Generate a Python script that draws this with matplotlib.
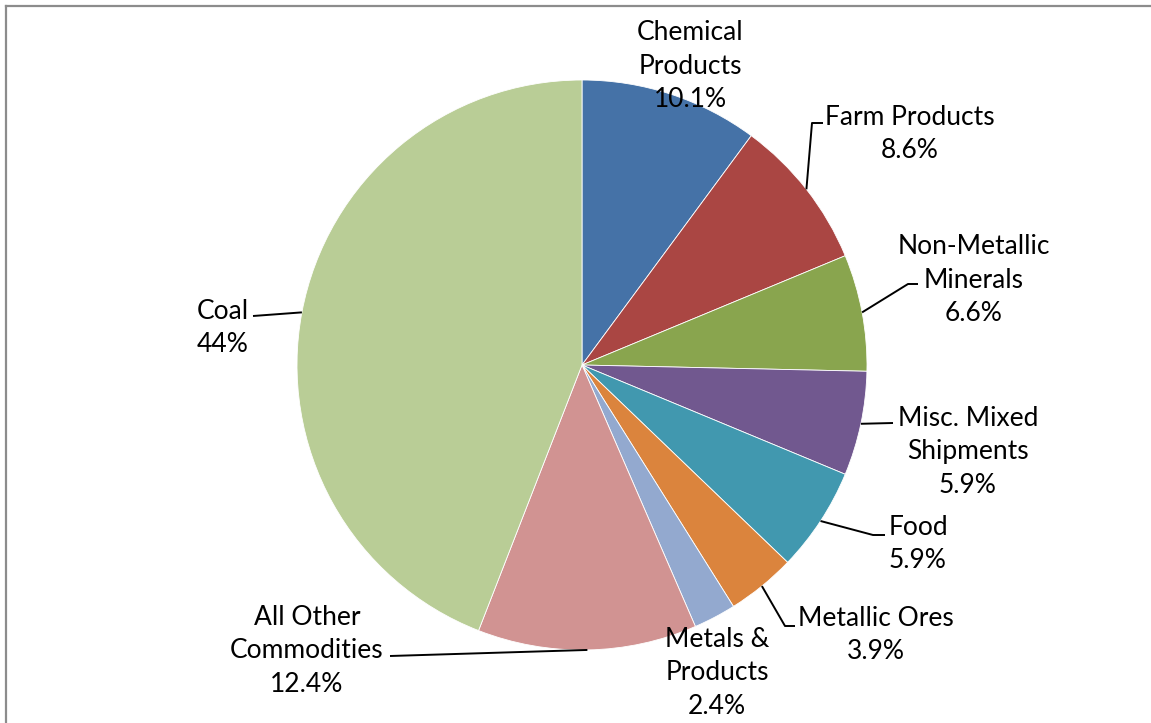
import numpy as np
import matplotlib
matplotlib.use("Agg")
import matplotlib.pyplot as plt
from matplotlib.lines import Line2D

# data
categories = ["Chemical\nProducts", "Farm Products", "Non-Metallic\nMinerals",
              "Misc. Mixed\nShipments", "Food", "Metallic Ores",
              "Metals &\nProducts", "All Other\nCommodities", "Coal"]
shares = [10.1, 8.6, 6.6, 5.9, 5.9, 3.9, 2.4, 12.4, 44]
pct_labels = ["10.1%", "8.6%", "6.6%", "5.9%", "5.9%", "3.9%", "2.4%", "12.4%", "44%"]
colors = ["#4572A7", "#AA4643", "#89A54E", "#71588F", "#4198AF",
          "#DB843D", "#93A9CF", "#D19392", "#B9CD96"]

W, H = 1151, 723
plt.rcParams['font.family'] = ['Lato', 'DejaVu Sans']

fig = plt.figure(figsize=(W / 100, H / 100), dpi=100)
ax = fig.add_axes([0, 0, 1, 1])

cx, cy, R = 582, H - 365, 285

def P(x, y):
    # pixel (top-left origin) -> data
    return x, H - y

wedges, _ = ax.pie(shares, colors=colors, startangle=90, counterclock=False,
                   center=(cx, cy), radius=R, normalize=True,
                   wedgeprops=dict(edgecolor='white', linewidth=0.6))

# pie() resets the limits, so set them afterwards
ax.set_xlim(0, W)
ax.set_ylim(0, H)
ax.set_aspect('equal')
ax.axis('off')

# label positions (pixel centres) and leader elbows (None = no leader)
label_pos = [(690, 66), (910, 134), (974, 280), (968, 452), (918, 544),
             (876, 635), (717, 673), (307, 651), (223, 328)]
leaders = [None,
           [(823, 123), (812, 123)],
           [(918, 284), (908, 284)],
           [(893, 423)],
           [(885, 535), (873, 535)],
           [(795, 626), (785, 626)],
           None,
           [(390, 656)],
           [(253, 316)]]

for w, cat, pct, pos, ld in zip(wedges, categories, pct_labels, label_pos, leaders):
    x, y = P(*pos)
    ax.text(x, y, cat + "\n" + pct, ha='center', va='center', multialignment='center',
            fontsize=19, linespacing=1.42, color='black')
    if ld is not None:
        mid = np.deg2rad((w.theta1 + w.theta2) / 2)
        ex, ey = cx + R * np.cos(mid), cy + R * np.sin(mid)
        xs = [P(*p)[0] for p in ld] + [ex]
        ys = [P(*p)[1] for p in ld] + [ey]
        ax.plot(xs, ys, color='black', lw=1.4, solid_capstyle='butt')

# chart border (top and left visible)
fig.add_artist(Line2D([6 / W, 1], [1 - 6 / H, 1 - 6 / H], transform=fig.transFigure,
                      color='#8c8c8c', lw=1.6))
fig.add_artist(Line2D([6 / W, 6 / W], [0, 1 - 6 / H], transform=fig.transFigure,
                      color='#8c8c8c', lw=1.6))

fig.savefig("out.png", dpi=100)
